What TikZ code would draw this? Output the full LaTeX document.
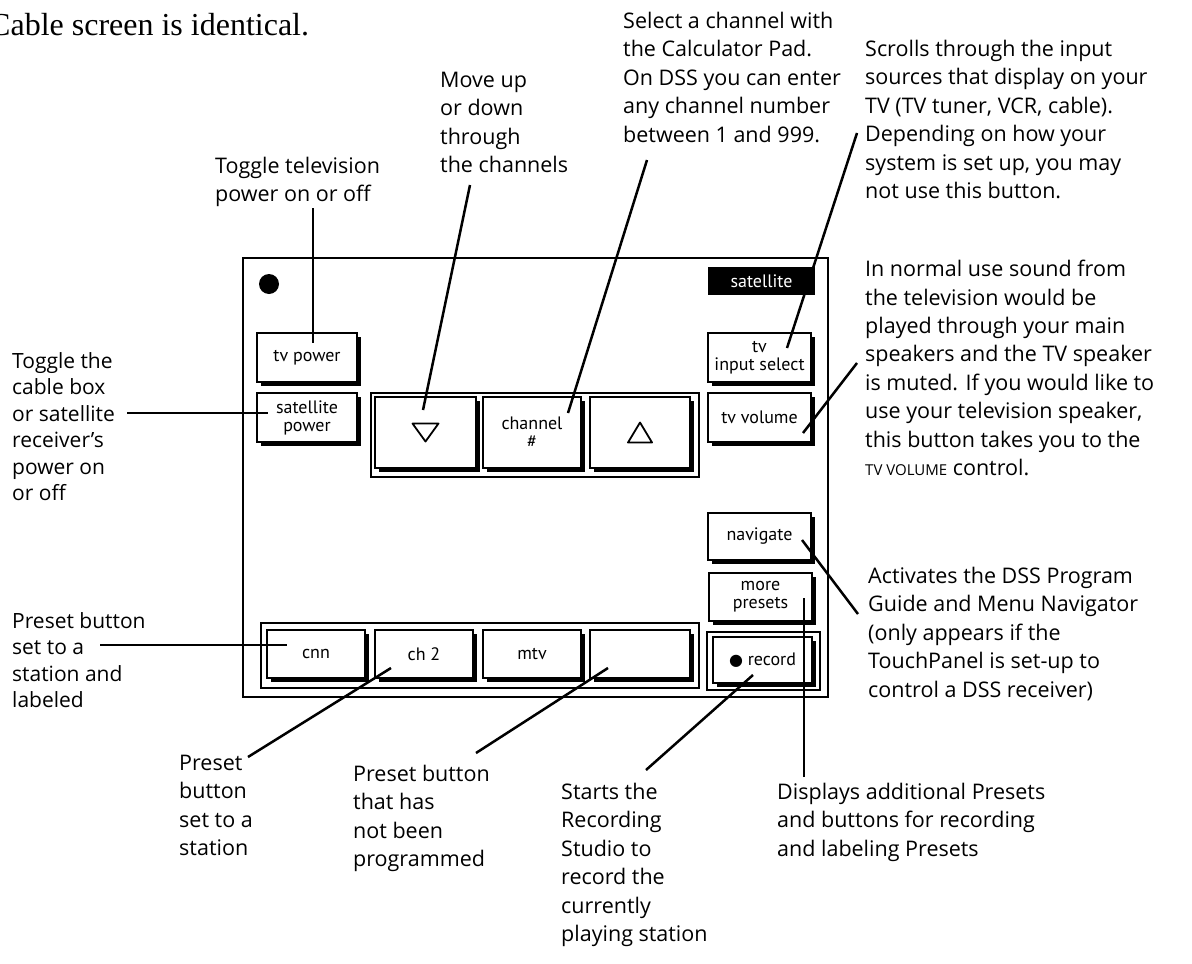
\documentclass[tikz,border=0pt]{standalone}
\usepackage{fontspec}
\setmainfont{Open Sans}
\newfontfamily\btnf{PT Sans}
\newfontfamily\serf{Liberation Serif}
\newfontfamily\dejavu{DejaVu Sans}
\usetikzlibrary{shadows}
\begin{document}
\begin{tikzpicture}[x=1pt,y=-1pt,
  lead/.style={line width=2.5pt},
  ann/.style={anchor=north west, inner sep=0pt, align=left, font=\fontsize{21.5}{28.4}\selectfont},
  annl/.style={anchor=north west, inner sep=0pt, align=left, font=\fontsize{21}{26.5}\selectfont},
  btn/.style={draw, line width=1.2pt, fill=white, inner sep=0pt, align=center,
    font=\btnf\fontsize{18}{18}\selectfont,
    general shadow={fill=black, shadow xshift=3.5pt, shadow yshift=-3.5pt}},
  framebox/.style={draw, line width=1.2pt, inner sep=0pt},
]
\useasboundingbox (0,0) rectangle (1192,964);
\fill[white] (0,0) rectangle (1192,964);

% title
\node[anchor=base west, inner sep=0pt, font=\serf\fontsize{32}{33}\selectfont] (title) at (-11,35) {Cable screen is identical.};

% panel
\node[framebox, line width=2pt, minimum width=585pt, minimum height=439pt] (panel) at (535.5,477.5) {};
\node[circle, fill=black, minimum size=20pt, inner sep=0pt] (dot) at (269,284) {};
\node[fill=black, text=white, minimum width=107pt, minimum height=28pt, inner sep=0pt,
  font=\btnf\fontsize{18}{18}\selectfont] (sat) at (761.5,281) {satellite};

% left buttons
\node[btn, minimum width=100pt, minimum height=49pt] (tvpower) at (307,357.5) {tv power};
\node[btn, minimum width=100pt, minimum height=49pt] (satpower) at (307,417.5) {satellite\\power};

% channel group
\node[framebox, minimum width=328pt, minimum height=84pt] (chframe) at (535,435) {};
\node[btn, minimum width=101pt, minimum height=71pt] (down) at (425.5,432.5) {};
\node[btn, minimum width=98pt, minimum height=71pt] (chan) at (532,432.5) {channel\\\#};
\node[btn, minimum width=100pt, minimum height=71pt] (up) at (640,432.5) {};
\draw[line width=1.8pt, line join=round, shift={(down.center)}] (-13,-9) -- (13,-9) -- (0,9) -- cycle;
\draw[line width=1.8pt, line join=round, shift={(up.center)}] (-12,10) -- (12,10) -- (0,-10) -- cycle;

% right buttons
\node[btn, minimum width=103pt, minimum height=49pt] (tvinput) at (759.5,357.5) {tv\\input select};
\node[btn, minimum width=103pt, minimum height=49pt] (tvvol) at (759.5,417.5) {tv volume};
\node[btn, minimum width=103pt, minimum height=47pt] (nav) at (759.5,536.5) {navigate};
\node[btn, minimum width=103pt, minimum height=48pt] (more) at (760.5,597) {more\\presets};

% record
\node[framebox, minimum width=113pt, minimum height=58pt] (recframe) at (763.5,661) {};
\node[btn, line width=1.8pt, minimum width=99pt, minimum height=46pt] (rec) at (762.5,660) {{\dejavu\fontsize{16}{16}\selectfont ●}\ record};

% presets
\node[framebox, minimum width=438pt, minimum height=65pt] (presetframe) at (480,655.5) {};
\node[btn, minimum width=98pt, minimum height=48pt] (cnn) at (316,654) {cnn};
\node[btn, minimum width=98pt, minimum height=48pt] (ch2) at (424,654) {ch 2};
\node[btn, minimum width=98pt, minimum height=48pt] (mtv) at (532,654) {mtv};
\node[btn, minimum width=100pt, minimum height=48pt] (blank) at (640,654) {};

% annotations
\node[ann] (tB) at (215,157) {Toggle television\\power on or off};
\node[ann] (tC) at (440,72) {Move up\\or down\\through\\the channels};
\node[ann] (tD) at (623,12) {Select a channel with\\the Calculator Pad.\\On DSS you can enter\\any channel number\\between 1 and 999.};
\node[ann] (tE) at (865,40) {Scrolls through the input\\sources that display on your\\TV (TV tuner, VCR, cable).\\Depending on how your\\system is set up, you may\\not use this button.};
\node[ann] (tF) at (865,260) {In normal use sound from\\the television would be\\played through your main\\speakers and the TV speaker\\is muted. If you would like to\\use your television speaker,\\this button takes you to the\\{\fontsize{15}{15}\selectfont TV VOLUME} control.};
\node[ann] (tG) at (868,567) {Activates the DSS Program\\Guide and Menu Navigator\\(only appears if the\\TouchPanel is set-up to\\control a DSS receiver)};
\node[annl] (tH) at (12,352) {Toggle the\\cable box\\or satellite\\receiver’s\\power on\\or off};
\node[annl] (tI) at (12,612) {Preset button\\set to a\\station and\\labeled};
\node[ann] (tJ) at (179,755) {Preset\\button\\set to a\\station};
\node[ann] (tK) at (353,765) {Preset button\\that has\\not been\\programmed};
\node[ann] (tL) at (561,783) {Starts the\\Recording\\Studio to\\record the\\currently\\playing station};
\node[ann] (tM) at (777,783) {Displays additional Presets\\and buttons for recording\\and labeling Presets};

% leader end points
\coordinate (a1) at (313,208);  \coordinate (b1) at (313,343);
\coordinate (a2) at (470,185);  \coordinate (b2) at (423,410);
\coordinate (a3) at (647,160);  \coordinate (b3) at (568,413);
\coordinate (a4) at (857,133);  \coordinate (b4) at (787,348);
\coordinate (a5) at (857,363);  \coordinate (b5) at (803,433);
\coordinate (a6) at (127,413);  \coordinate (b6) at (268,413);
\coordinate (a7) at (100,645);  \coordinate (b7) at (287,645);
\coordinate (a8) at (248,757);  \coordinate (b8) at (391,668);
\coordinate (a9) at (476,753);  \coordinate (b9) at (608,668);
\coordinate (a10) at (646,770); \coordinate (b10) at (753,675);
\coordinate (a11) at (804,777); \coordinate (b11) at (804,598);
\coordinate (a12) at (858,614); \coordinate (b12) at (802,540);

\foreach \i in {1,...,12} \draw[lead] (a\i) -- (b\i);
\end{tikzpicture}
\end{document}
